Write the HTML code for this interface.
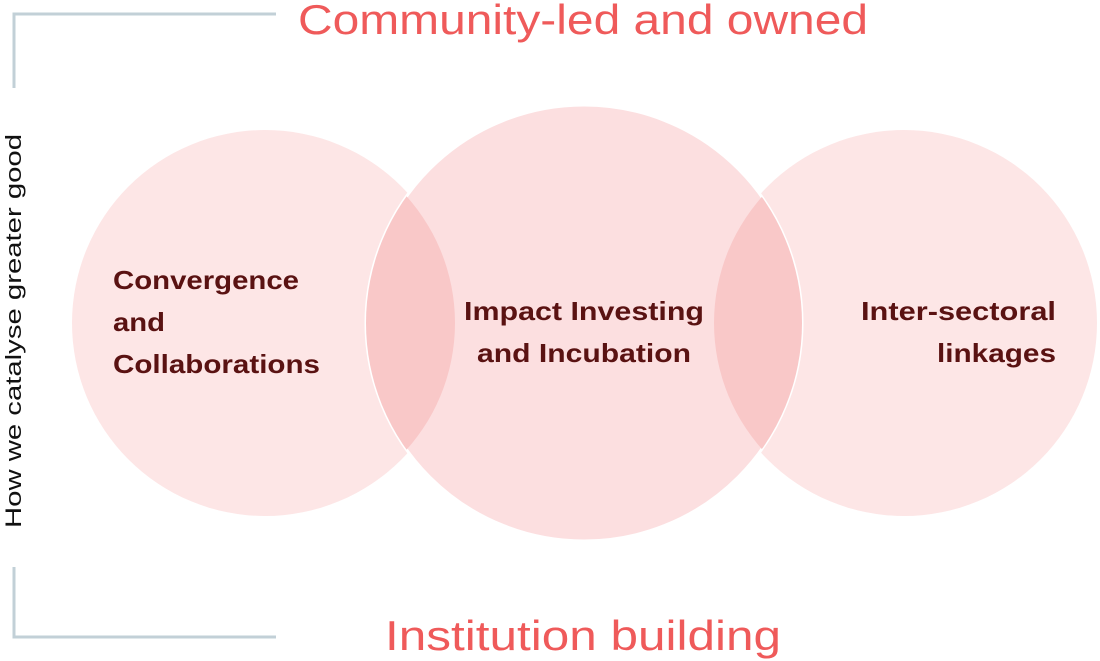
<!DOCTYPE html>
<html><head><meta charset="utf-8"><style>html,body{margin:0;padding:0;background:#fff}svg{display:block}</style></head>
<body>
<svg width="1100" height="661" viewBox="0 0 1100 661" xmlns="http://www.w3.org/2000/svg" font-family="'Liberation Sans', sans-serif">
<defs>
<clipPath id="cm"><circle cx="584" cy="323" r="218"/></clipPath>
</defs>
<path d="M14 88 V14 H276" fill="none" stroke="#c2d0d7" stroke-width="3"/>
<path d="M14 567 V637 H276" fill="none" stroke="#c2d0d7" stroke-width="3"/>
<circle cx="265" cy="323" r="193" fill="#fde6e6"/>
<circle cx="904" cy="323" r="193" fill="#fde6e6"/>
<circle cx="584" cy="323" r="218" fill="#fcdfe0" stroke="#fff" stroke-width="3"/>
<g clip-path="url(#cm)">
<circle cx="265" cy="323" r="190" fill="#f9c8c8"/>
<circle cx="904" cy="323" r="190" fill="#f9c8c8"/>
</g>
<text x="583" y="34" text-anchor="middle" font-size="42" fill="#ef5a5a" textLength="570" lengthAdjust="spacingAndGlyphs">Community-led and owned</text>
<text x="583" y="650" text-anchor="middle" font-size="42" fill="#ef5a5a" textLength="396" lengthAdjust="spacingAndGlyphs">Institution building</text>
<text transform="translate(21,528) rotate(-90)" font-size="22" fill="#111" textLength="394" lengthAdjust="spacingAndGlyphs">How we catalyse greater good</text>
<g font-weight="bold" font-size="26" fill="#5a1212">
<text x="113" y="289" textLength="186" lengthAdjust="spacingAndGlyphs">Convergence</text>
<text x="113" y="331" textLength="52" lengthAdjust="spacingAndGlyphs">and</text>
<text x="113" y="373" textLength="207" lengthAdjust="spacingAndGlyphs">Collaborations</text>
<text x="584" y="320" text-anchor="middle" textLength="240" lengthAdjust="spacingAndGlyphs">Impact Investing</text>
<text x="584" y="362" text-anchor="middle" textLength="214" lengthAdjust="spacingAndGlyphs">and Incubation</text>
<text x="1056" y="320" text-anchor="end" textLength="195" lengthAdjust="spacingAndGlyphs">Inter-sectoral</text>
<text x="1056" y="362" text-anchor="end" textLength="119" lengthAdjust="spacingAndGlyphs">linkages</text>
</g>
</svg>
</body></html>
